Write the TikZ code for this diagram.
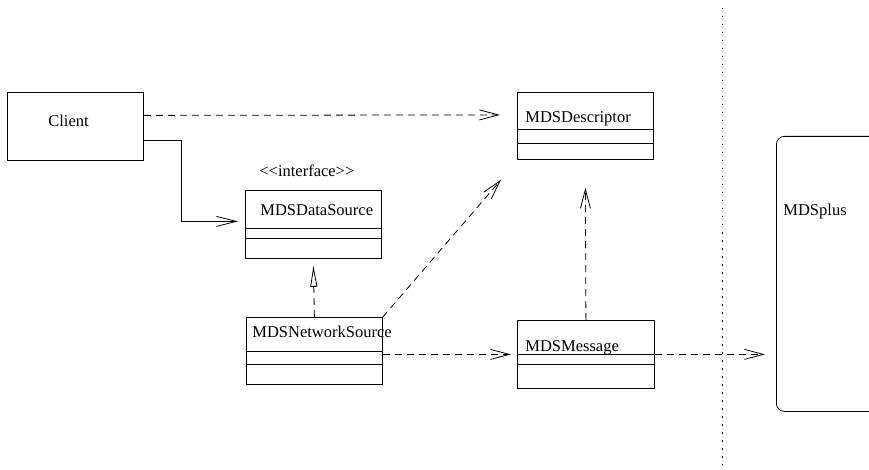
\documentclass[tikz,border=0pt]{standalone}
\usepackage{fontspec}
\setmainfont{Liberation Serif}
\newfontfamily\umlfont{Liberation Serif}
\usetikzlibrary{arrows.meta}

\tikzset{
	classbox/.style={draw, rectangle, anchor=north west, inner sep=0pt,
		minimum width=136pt, minimum height=68pt},
	label/.style={anchor=base west, inner sep=0pt},
	dep/.style={line width=0.8pt, dash pattern=on 7pt off 5pt,
		-{Straight Barb[length=19pt, width=10pt]}},
}

\begin{document}
\begin{tikzpicture}[x=1pt, y=-1pt, line width=0.8pt,
	font=\umlfont\fontsize{16.5}{19}\selectfont]
\useasboundingbox (0,0) rectangle (869,470);
\clip (0,0) rectangle (869,470);

% classes
\node [classbox] (client) at (7,92) {};
\node [label] (clientname) at (48,127) {Client};

\node [label] (stereo) at (259,177) {{<}{<}interface{>}{>}};
\node [classbox] (datasrc) at (245,190) {};
\draw (datasrc.north west) ++(0,38) -- ++(136,0);
\draw (datasrc.north west) ++(0,48) -- ++(136,0);
\node [label] (datasrcname) at (260,215) {MDSDataSource};

\node [classbox, minimum height=67pt] (netsrc) at (246,317) {};
\draw (netsrc.north west) ++(0,34) -- ++(136,0);
\draw (netsrc.north west) ++(0,47) -- ++(136,0);
\node [label] (netsrcname) at (252,337) {MDSNetworkSource};

\node [classbox, minimum height=67pt] (desc) at (517,92) {};
\draw (desc.north west) ++(0,37) -- ++(136,0);
\draw (desc.north west) ++(0,51) -- ++(136,0);
\node [label] (descname) at (525,123) {MDSDescriptor};

\node [classbox, minimum width=137pt] (msg) at (517,320) {};
\draw (msg.north west) ++(0,34) -- ++(137,0);
\draw (msg.north west) ++(0,44) -- ++(137,0);
\node [label] (msgname) at (525,351) {MDSMessage};

\node [classbox, rounded corners=8pt, minimum width=200pt,
	minimum height=275pt] (mdsplus) at (776,136) {};
\node [label] (mdsplusname) at (783,215) {MDSplus};

% separator
\coordinate (septop) at (722,8);
\coordinate (sepbot) at (722,465);
\draw [dash pattern=on 1.5pt off 6.5pt] (septop) -- (sepbot);

% connectors
\draw [dep] ([yshift=11pt]client.east) -- ([xshift=-17pt, yshift=11pt]desc.west);
\draw [-{Straight Barb[length=20pt, width=10pt]}]
	([yshift=-14pt]client.east) -- ++(38,0) |- ([xshift=-7pt, yshift=3pt]datasrc.west);
\draw [dash pattern=on 7pt off 5pt, -{Triangle[open, length=21pt, width=7pt]}]
	(netsrc.north) -- ([yshift=-7pt]datasrc.south);
\draw [dep] (netsrc.north east) -- ([xshift=-16pt, yshift=-20pt]desc.south west);
\draw [dep] (msg.north) -- ([yshift=-28pt]desc.south);
\draw [dep] ([yshift=-3.5pt]netsrc.east) -- ([xshift=-6pt]msg.west);
\draw [dep] (msg.east) -- ([xshift=-11pt]mdsplus.west |- msg.east);
\end{tikzpicture}
\end{document}
